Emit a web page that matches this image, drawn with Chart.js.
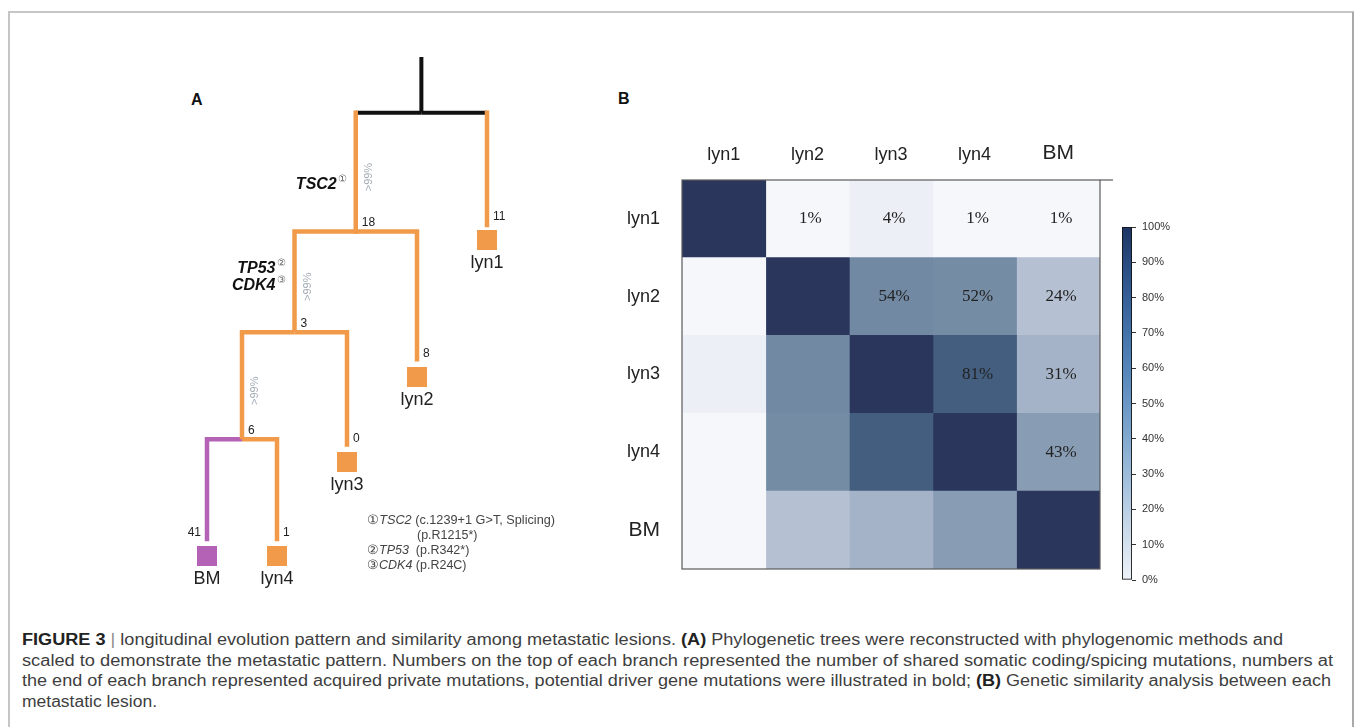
<!DOCTYPE html>
<html><head><meta charset="utf-8">
<script src="https://cdn.jsdelivr.net/npm/chart.js@4.4.0/dist/chart.umd.min.js"></script>
<style>
html,body{margin:0;padding:0;background:#fff;width:1356px;height:727px;overflow:hidden;font-family:"Liberation Sans",Arial,sans-serif;}
#frame{position:absolute;left:8px;top:11px;width:1342px;height:760px;border-top:2px solid #c6c6c6;border-left:2px solid #c6c6c6;border-right:2px solid #a9a9a9;}
canvas{position:absolute;}
.panel{position:absolute;font-weight:bold;font-size:16px;line-height:18px;color:#111;}
.cap{position:absolute;left:22px;font-size:16px;line-height:20.5px;color:#3e3e3e;white-space:nowrap;transform-origin:0 0;}
.cap b{color:#222;}
.cap .bar{color:#8a8a8a;}
.note{position:absolute;font-size:12.5px;line-height:15px;color:#444;white-space:nowrap;transform-origin:0 0;}
</style></head>
<body>
<div id="frame"></div>
<div class="panel" style="left:191px;top:91px">A</div>
<div class="panel" style="left:618px;top:90px">B</div>

<canvas id="tree" width="450" height="560" style="left:150px;top:40px;width:450px;height:560px"></canvas>
<canvas id="heat" width="520" height="441" style="left:600px;top:130px;width:520px;height:441px"></canvas>
<canvas id="cbar" width="60" height="375" style="left:1110px;top:217px;width:60px;height:375px"></canvas>

<div class="note" data-w="188" style="left:367px;top:513px">①<i>TSC2</i> (c.1239+1 G&gt;T, Splicing)</div>
<div class="note" style="left:417px;top:528px">(p.R1215*)</div>
<div class="note" style="left:367px;top:543px">②<i>TP53</i>&nbsp; (p.R342*)</div>
<div class="note" style="left:367px;top:558px">③<i>CDK4</i> (p.R24C)</div>

<div class="cap" data-w="1261" style="top:630px"><b>FIGURE 3</b> <span class="bar">|</span> longitudinal evolution pattern and similarity among metastatic lesions. <b>(A)</b> Phylogenetic trees were reconstructed with phylogenomic methods and</div>
<div class="cap" data-w="1311" style="top:650.5px">scaled to demonstrate the metastatic pattern. Numbers on the top of each branch represented the number of shared somatic coding/spicing mutations, numbers at</div>
<div class="cap" data-w="1309" style="top:671px">the end of each branch represented acquired private mutations, potential driver gene mutations were illustrated in bold; <b>(B)</b> Genetic similarity analysis between each</div>
<div class="cap" data-w="135" style="top:691.5px">metastatic lesion.</div>

<script>
// ---------------- DATA ----------------
// Phylogenetic tree (panel A)
const treeNodes     = ['root', 'n1', 'n2', 'n3', 'lyn1', 'lyn2', 'lyn3', 'BM', 'lyn4'];
const treeParents   = [null, 'root', 'n1', 'n2', 'root', 'n1', 'n2', 'n3', 'n3'];
const branchLengths = [0.53, 1.13, 0.96, 1.02, 1.07, 1.24, 1.09, 0.97, 0.97]; // drawn branch lengths
const branchCounts  = [null, 18, 3, 6, 11, 8, 0, 41, 1];                       // mutations per branch
const supportLabels = [null, '>99%', '>99%', '>99%', null, null, null, null, null];
const driverGenes   = [[], [['TSC2', '①']], [['TP53', '②'], ['CDK4', '③']], [], [], [], [], [], []];
const leafOrder     = ['BM', 'lyn4', 'lyn3', 'lyn2', 'lyn1'];
const boneMarrowLesions = ['BM'];

// Similarity heatmap (panel B)
const lesions = ['lyn1', 'lyn2', 'lyn3', 'lyn4', 'BM'];
const simLyn1 = [100, 1, 4, 1, 1];
const simLyn2 = [1, 100, 54, 52, 24];
const simLyn3 = [4, 54, 100, 81, 31];
const simLyn4 = [1, 52, 81, 100, 43];
const simBM   = [1, 24, 31, 43, 100];
const similarityRows = [simLyn1, simLyn2, simLyn3, simLyn4, simBM];

// Colour bar
const colorbarTicks = [0, 10, 20, 30, 40, 50, 60, 70, 80, 90, 100];

// ---------------- STYLE ----------------
const FONT = '"Liberation Sans", Arial, sans-serif';
Chart.defaults.font.family = FONT;
const ORANGE = '#F19B4A', PURPLE = '#B462B6', BLACK = '#111111';
const cellStops = [[0, [250, 250, 253]], [0.05, [232, 236, 243]], [0.25, [178, 191, 209]],
                   [0.5, [120, 143, 168]], [0.8, [68, 96, 128]], [1, [42, 54, 92]]];
const barStops = [[0, '#eef2f8'], [0.1, '#d5e1ee'], [0.2, '#b9cfe4'], [0.3, '#9dbcda'], [0.4, '#82a9cf'],
                  [0.5, '#6a97c5'], [0.6, '#5585b9'], [0.7, '#4473aa'], [0.8, '#355f97'], [0.9, '#284b80'], [1, '#1d3563']];
function cellColor(v) {
  const t = v / 100;
  for (let k = 1; k < cellStops.length; k++) {
    const [t0, c0] = cellStops[k - 1], [t1, c1] = cellStops[k];
    if (t <= t1) {
      const f = (t - t0) / (t1 - t0);
      return 'rgb(' + c0.map((c, j) => Math.round(c + (c1[j] - c) * f)).join(',') + ')';
    }
  }
  return 'rgb(42,54,92)';
}

// ---------------- TREE LAYOUT ----------------
const rootName = treeNodes[treeParents.indexOf(null)];
const childrenOf = n => treeNodes.filter((m, k) => treeParents[k] === n);
function yOf(n) { const i = treeNodes.indexOf(n); return treeParents[i] === null ? 0 : yOf(treeParents[i]) + branchLengths[i]; }
function xOf(n) {
  const li = leafOrder.indexOf(n);
  if (li >= 0) return li;
  const xs = childrenOf(n).map(xOf);
  return (Math.min(...xs) + Math.max(...xs)) / 2;
}
const pos = {};
treeNodes.forEach(n => pos[n] = { x: xOf(n), y: yOf(n) });
const colorOf = n => boneMarrowLesions.includes(n) ? PURPLE : ORANGE;

const treeDatasets = [];
function seg(pts, color, w, cap) {
  treeDatasets.push({ data: pts, borderColor: color, backgroundColor: color, borderWidth: w, showLine: true,
    pointRadius: 0, borderCapStyle: cap || 'butt', borderJoinStyle: 'miter', clip: false, tension: 0, fill: false });
}
treeNodes.forEach((n, i) => {
  const p = treeParents[i];
  if (p === null) return;
  const P = pos[p], C = pos[n], col = colorOf(n);
  if (p === rootName) {
    seg([{ x: C.x, y: P.y }, { x: C.x, y: C.y }], col, 4.5, 'square');
    seg([{ x: P.x, y: P.y }, { x: C.x, y: P.y }], BLACK, 4);
  } else {
    seg([{ x: P.x, y: P.y }, { x: C.x, y: P.y }, { x: C.x, y: C.y }], col, 4.5);
  }
});
const R = pos[rootName];
seg([{ x: R.x, y: R.y - branchLengths[treeNodes.indexOf(rootName)] }, { x: R.x, y: R.y }], BLACK, 4);

const treeDecor = {
  id: 'treeDecor',
  afterDatasetsDraw(chart) {
    const { ctx, scales: { x, y } } = chart;
    ctx.save();
    treeNodes.forEach((n, i) => {
      const px = x.getPixelForValue(pos[n].x);
      const endY = y.getPixelForValue(pos[n].y);
      const isLeaf = leafOrder.includes(n);
      const parent = treeParents[i];
      if (isLeaf) {
        ctx.fillStyle = colorOf(n);
        ctx.fillRect(Math.round(px - 10), Math.round(endY + 5), 20, 20);
        ctx.fillStyle = '#222';
        ctx.font = '18px ' + FONT;
        ctx.textAlign = 'center'; ctx.textBaseline = 'middle';
        ctx.fillText(n, px, endY + 38);
      }
      if (branchCounts[i] !== null) {
        const onLeft = isLeaf && parent !== null && pos[n].x < pos[parent].x;
        ctx.fillStyle = '#222';
        ctx.font = '12px ' + FONT;
        ctx.textBaseline = 'alphabetic';
        ctx.textAlign = onLeft ? 'right' : 'left';
        ctx.fillText(String(branchCounts[i]), px + (onLeft ? -6 : 6), endY - 5);
      }
      if (parent !== null) {
        const topY = y.getPixelForValue(pos[parent].y);
        const midY = (topY + endY) / 2;
        if (supportLabels[i]) {
          ctx.save();
          ctx.translate(px + 13, midY + 5);
          ctx.rotate(-Math.PI / 2);
          ctx.fillStyle = '#a3abb4';
          ctx.font = '11px ' + FONT;
          ctx.textAlign = 'center'; ctx.textBaseline = 'middle';
          ctx.fillText(supportLabels[i], 0, 0);
          ctx.restore();
        }
        const genes = driverGenes[i];
        genes.forEach((g, k) => {
          const cy = endY - 47 - (genes.length - 1 - k) * 17;
          ctx.font = 'italic bold 16px ' + FONT;
          const wg = ctx.measureText(g[0]).width;
          ctx.font = '10px ' + FONT;
          const wd = ctx.measureText(g[1]).width;
          const right = px - 9;
          ctx.textAlign = 'left'; ctx.textBaseline = 'middle';
          ctx.fillStyle = '#111';
          ctx.font = 'italic bold 16px ' + FONT;
          ctx.fillText(g[0], right - wd - wg - 1, cy);
          ctx.fillStyle = '#666';
          ctx.font = '10px ' + FONT;
          ctx.fillText(g[1], right - wd, cy - 5);
        });
      }
    });
    ctx.restore();
  }
};

new Chart(document.getElementById('tree'), {
  type: 'scatter',
  data: { datasets: treeDatasets },
  options: {
    responsive: false, animation: false, events: [],
    layout: { padding: { left: 57, right: 113, top: 15, bottom: 46.25 } },
    scales: {
      x: { type: 'linear', min: 0, max: leafOrder.length - 1, display: false },
      y: { type: 'linear', min: -0.55, max: 4.2, reverse: true, display: false }
    },
    plugins: { legend: { display: false }, tooltip: { enabled: false } }
  },
  plugins: [treeDecor]
});

// ---------------- HEATMAP ----------------
const heatDatasets = lesions.map((col, j) => ({
  label: col,
  data: lesions.map(() => 1),
  backgroundColor: similarityRows.map(r => cellColor(r[j])),
  borderWidth: 0,
  inflateAmount: 0.5,
  barPercentage: 1,
  categoryPercentage: 1
}));

const heatDecor = {
  id: 'heatDecor',
  afterDatasetsDraw(chart) {
    const { ctx, chartArea: a } = chart;
    ctx.save();
    ctx.font = '17px "Liberation Serif", "Times New Roman", serif';
    ctx.fillStyle = '#222';
    ctx.textAlign = 'center'; ctx.textBaseline = 'middle';
    lesions.forEach((c, j) => {
      const meta = chart.getDatasetMeta(j);
      similarityRows.forEach((row, i) => {
        if (j > i) {
          const el = meta.data[i];
          ctx.fillText(row[j] + '%', (el.x + el.base) / 2 + 3, el.y);
        }
      });
    });
    ctx.strokeStyle = '#5a5a5a';
    ctx.lineWidth = 1.2;
    ctx.strokeRect(a.left, a.top, a.right - a.left, a.bottom - a.top);
    ctx.beginPath();
    ctx.moveTo(a.right, a.top); ctx.lineTo(a.right + 13, a.top);
    ctx.stroke();
    ctx.restore();
  }
};

const labelFont = ctx => ({ family: FONT, size: (ctx.tick && ctx.tick.label === 'BM') ? 21 : 18 });

new Chart(document.getElementById('heat'), {
  type: 'bar',
  data: { labels: lesions, datasets: heatDatasets },
  options: {
    indexAxis: 'y',
    responsive: false, animation: false, events: [],
    layout: { padding: { right: 20, bottom: 2, top: 0, left: 0 } },
    scales: {
      x: { type: 'linear', stacked: true, min: 0, max: lesions.length, display: false },
      xTop: {
        type: 'category', labels: lesions, position: 'top', offset: true, axis: 'x',
        grid: { display: false }, border: { display: false },
        ticks: { font: labelFont, color: '#222', padding: 6, maxRotation: 0 },
        afterFit(s) { s.height = 50; s.paddingLeft = 0; s.paddingRight = 0; }
      },
      y: {
        type: 'category', stacked: true,
        grid: { display: false }, border: { display: false },
        ticks: { font: labelFont, color: '#222', padding: 14 },
        afterFit(s) { s.width = 82; s.paddingTop = 0; s.paddingBottom = 0; }
      }
    },
    plugins: { legend: { display: false }, tooltip: { enabled: false } }
  },
  plugins: [heatDecor]
});

// ---------------- COLOUR BAR ----------------
new Chart(document.getElementById('cbar'), {
  type: 'bar',
  data: {
    labels: [''],
    datasets: [{
      data: [colorbarTicks[colorbarTicks.length - 1]],
      backgroundColor(ctx) {
        const a = ctx.chart.chartArea;
        if (!a) return '#fff';
        const g = ctx.chart.ctx.createLinearGradient(0, a.bottom, 0, a.top);
        barStops.forEach(([t, c]) => g.addColorStop(t, c));
        return g;
      },
      borderColor: '#111', borderWidth: 1.2, borderSkipped: false,
      barPercentage: 1, categoryPercentage: 1
    }]
  },
  options: {
    responsive: false, animation: false, events: [],
    layout: { padding: { left: 12, top: 10, bottom: 12, right: 0 } },
    scales: {
      x: { display: false },
      y: {
        position: 'right', min: colorbarTicks[0], max: colorbarTicks[colorbarTicks.length - 1],
        afterBuildTicks(s) { s.ticks = colorbarTicks.map(v => ({ value: v })); },
        ticks: { callback: v => v + '%', font: { size: 11, family: FONT }, color: '#333', padding: 6 },
        grid: { drawOnChartArea: false, drawTicks: true, tickLength: 4, color: '#333' },
        border: { display: false },
        afterFit(s) { s.width = 38; s.paddingTop = 0; s.paddingBottom = 0; }
      }
    },
    plugins: { legend: { display: false }, tooltip: { enabled: false } }
  }
});

// ---------------- fit caption lines ----------------
function fitText() {
  document.querySelectorAll('[data-w]').forEach(el => {
    el.style.transform = 'none';
    const w = el.getBoundingClientRect().width;
    el.style.transform = 'scaleX(' + (parseFloat(el.dataset.w) / w) + ')';
  });
}
fitText();
if (document.fonts && document.fonts.ready) document.fonts.ready.then(fitText);
</script>
</body></html>
